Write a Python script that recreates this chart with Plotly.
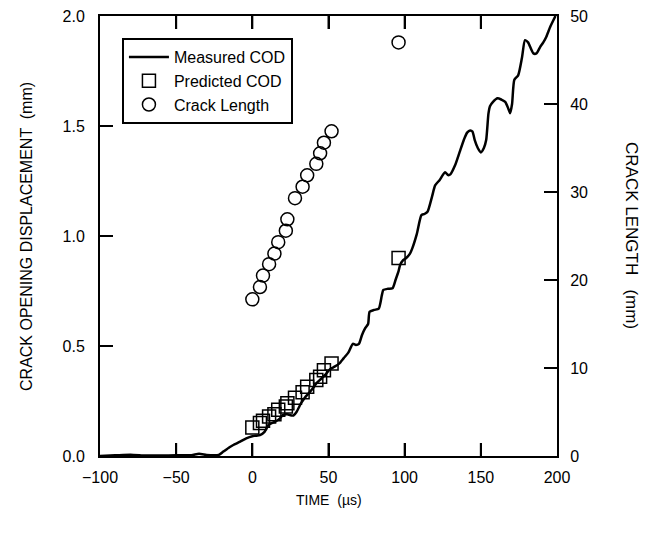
import plotly.graph_objects as go

# Measured COD (mm) vs time (us)
time_meas = [-100, -90, -80, -70, -60, -50, -40, -35, -30, -25,
             -22, -19, -15, -12.5, -8, -4, 0, 2, 5, 8,
             10.5, 13, 15, 18, 20, 23, 25, 27, 29, 32,
             35, 37, 40, 42, 45, 48, 51, 54, 57, 60,
             63, 66, 68, 70, 72, 74, 76, 77, 80, 83,
             85, 86, 89, 92, 94, 96, 97, 99, 101, 103.5,
             105, 108, 111, 113, 115, 118, 120, 123, 126.5, 128.5,
             130, 133, 136, 139, 141, 143, 144.5, 146, 148, 150,
             152, 153.5, 155, 156, 158, 161, 163.5, 166, 168, 169.2,
             170.5, 172, 174.5, 177, 179, 181, 184.5, 186.5, 189, 191,
             193, 195.5, 199]
cod_meas = [0.0, 0.003, 0.006, 0.002, 0.002, 0.003, 0.004, 0.01, 0.005, 0.003,
            0.005, 0.02, 0.04, 0.05, 0.065, 0.08, 0.09, 0.092, 0.095, 0.11,
            0.14, 0.15, 0.156, 0.17, 0.186, 0.19, 0.185, 0.184, 0.2, 0.24,
            0.27, 0.285, 0.31, 0.33, 0.35, 0.37, 0.395, 0.406, 0.42, 0.445,
            0.47, 0.51, 0.505, 0.51, 0.55, 0.58, 0.60, 0.656, 0.664, 0.67,
            0.73, 0.755, 0.76, 0.762, 0.80, 0.84, 0.868, 0.89, 0.90, 0.92,
            0.944, 1.01, 1.095, 1.10, 1.11, 1.18, 1.23, 1.255, 1.29, 1.277,
            1.28, 1.32, 1.38, 1.44, 1.47, 1.48, 1.475, 1.436, 1.40, 1.38,
            1.40, 1.436, 1.556, 1.59, 1.61, 1.626, 1.62, 1.61, 1.58, 1.558,
            1.6, 1.71, 1.73, 1.81, 1.89, 1.88, 1.83, 1.83, 1.86, 1.88,
            1.906, 1.95, 2.0]

# Predicted COD (mm) and crack length (mm) at the same instants
time_pts = [0, 5, 7, 11, 14.5, 17, 22, 23, 28, 33, 36, 42, 44.5, 47, 52, 96]
cod_pred = [0.13, 0.15, 0.16, 0.18, 0.19, 0.21, 0.225, 0.24, 0.265, 0.29,
            0.315, 0.345, 0.36, 0.39, 0.42, 0.90]
crack_len = [17.8, 19.2, 20.5, 21.8, 23.0, 24.3, 25.6, 26.9, 29.3, 30.6,
             31.9, 33.2, 34.4, 35.6, 36.9, 47.0]

# inner tick positions (the end ones sit on the frame)
x_ticks = [-50, 0, 50, 100, 150]
cod_ticks = [0.5, 1.0, 1.5]
len_ticks = [10, 20, 30, 40]

FONT = "Liberation Sans, Arial, sans-serif"

fig = go.Figure()

fig.add_trace(go.Scatter(
    x=time_meas, y=cod_meas, mode="lines", name="Measured COD",
    line=dict(color="black", width=2.5, shape="spline", smoothing=0.6),
))
fig.add_trace(go.Scatter(
    x=time_pts, y=cod_pred, mode="markers", name="Predicted COD",
    marker=dict(symbol="square-open", size=13, color="black", line=dict(width=1.5)),
))
fig.add_trace(go.Scatter(
    x=time_pts, y=crack_len, mode="markers", name="Crack Length", yaxis="y2",
    marker=dict(symbol="circle-open", size=13, color="black", line=dict(width=1.5)),
))

# inward tick marks as paper-fraction shapes (13 px of a 457 x 440 plot area)
tx = 13 / 457
ty = 13 / 440
tick_line = dict(color="black", width=2)
for t in x_ticks:
    fig.add_shape(type="line", xref="x", yref="paper", x0=t, x1=t,
                  y0=0, y1=ty, line=tick_line, layer="above")
    fig.add_shape(type="line", xref="x", yref="paper", x0=t, x1=t,
                  y0=1 - ty, y1=1, line=tick_line, layer="above")
for v in cod_ticks:
    fig.add_shape(type="line", xref="paper", yref="y", y0=v, y1=v,
                  x0=0, x1=tx, line=tick_line, layer="above")
for v in len_ticks:
    fig.add_shape(type="line", xref="paper", yref="y2", y0=v, y1=v,
                  x0=1 - tx, x1=1, line=tick_line, layer="above")

axis_common = dict(
    showline=True, linecolor="black", linewidth=2, showgrid=False, zeroline=False,
    automargin=False, ticklabeloverflow="allow",
    ticks="inside", ticklen=13, tickwidth=2, tickcolor="black",
    tickfont=dict(family=FONT, size=16, color="black"),
)

# page body adds an 8px offset, margins compensate
fig.update_layout(
    width=652, height=534,
    margin=dict(l=92, r=103, t=8, b=86),
    paper_bgcolor="white", plot_bgcolor="white",
    font=dict(family=FONT, color="black"),
    xaxis=dict(range=[-100, 200], tick0=-100, dtick=50, mirror="ticks",
               ticklabelstandoff=6, **axis_common),
    yaxis=dict(range=[0, 2.0], tick0=0, dtick=0.5, tickformat=".1f",
               ticklabelstandoff=10, **axis_common),
    yaxis2=dict(range=[0, 50], tick0=0, dtick=10, overlaying="y", side="right",
                ticklabelstandoff=8, **axis_common),
    showlegend=True,
    legend=dict(x=0.048, y=0.95, xanchor="left", yanchor="top",
                bordercolor="black", borderwidth=2, bgcolor="white",
                font=dict(family=FONT, size=16, color="black"),
                tracegroupgap=0, itemwidth=40),
    annotations=[
        dict(text="CRACK OPENING DISPLACEMENT  (mm)", xref="paper", yref="paper",
             x=-0.162, y=0.5, xanchor="center", yanchor="middle", textangle=-90,
             showarrow=False, font=dict(family=FONT, size=16, color="black")),
        dict(text="CRACK LENGTH   (mm)", xref="paper", yref="paper",
             x=1.164, y=0.5, xanchor="center", yanchor="middle", textangle=90,
             showarrow=False, font=dict(family=FONT, size=17, color="black")),
        dict(text="TIME  (µs)", xref="paper", yref="paper",
             x=0.5, y=-0.1, yanchor="middle", showarrow=False,
             font=dict(family=FONT, size=14, color="black")),
    ],
)

fig.write_html("out.html")
